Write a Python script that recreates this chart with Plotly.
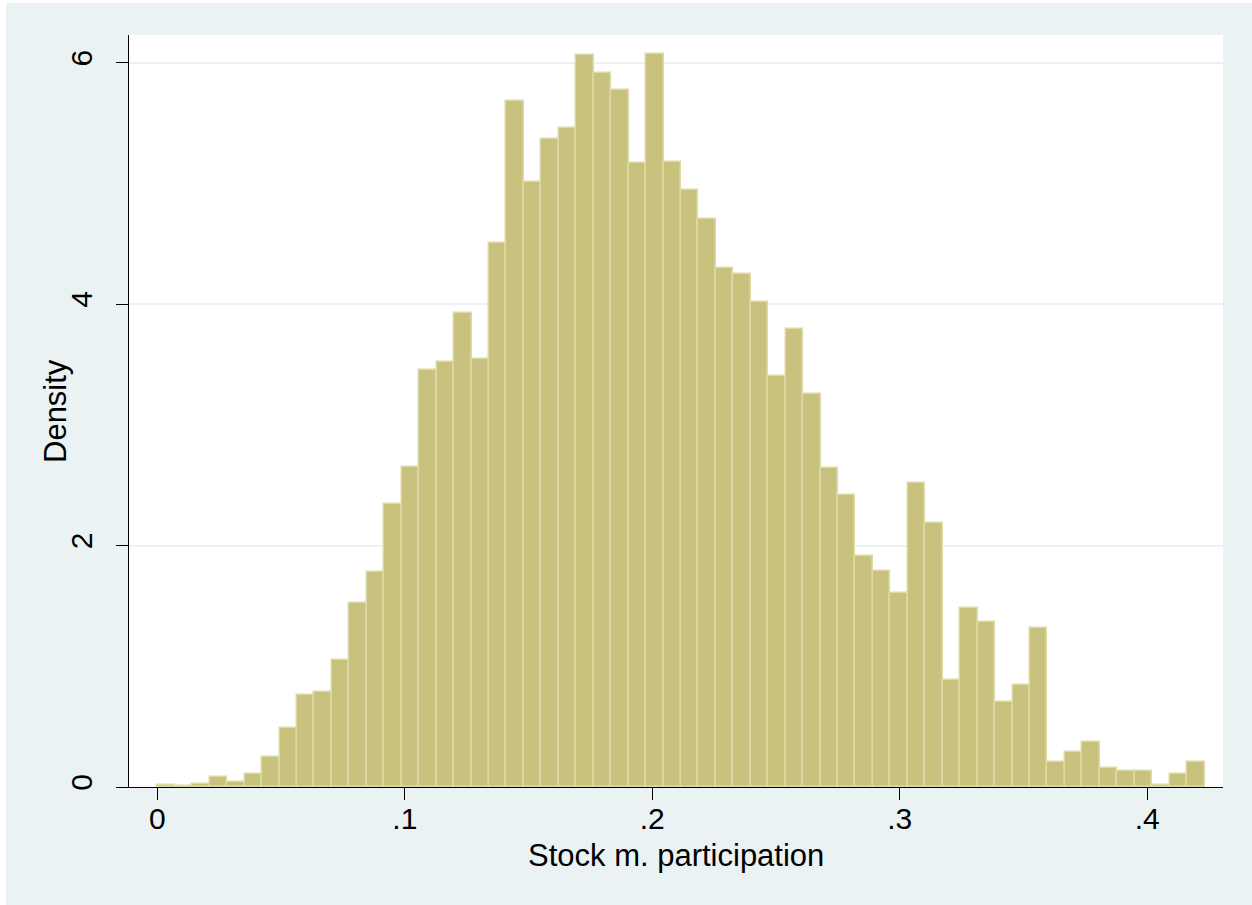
import plotly.graph_objects as go

# Histogram of stock market participation (density scale, 60 equal-width bins)
bin_start = 0.0
bin_width = 0.007053
density = [
    0.020, 0.010, 0.027, 0.083, 0.041, 0.108, 0.251, 0.485, 0.764, 0.788,
    1.048, 1.523, 1.782, 2.343, 2.654, 3.454, 3.523, 3.926, 3.543, 4.503,
    5.679, 5.011, 5.364, 5.455, 6.060, 5.916, 5.772, 5.171, 6.070, 5.176,
    4.947, 4.703, 4.296, 4.247, 4.017, 3.405, 3.791, 3.253, 2.638, 2.420,
    1.917, 1.785, 1.607, 2.517, 2.185, 0.888, 1.482, 1.368, 0.704, 0.847,
    1.316, 0.207, 0.290, 0.373, 0.157, 0.135, 0.135, 0.019, 0.110, 0.204,
]

x_tickvals = [0, 0.1, 0.2, 0.3, 0.4]
x_ticktext = ["0", ".1", ".2", ".3", ".4"]
y_tickvals = [0, 2, 4, 6]
y_ticktext = ["0", "2", "4", "6"]

x_title = "Stock m. participation"
y_title = "Density"

centers = [bin_start + bin_width * (i + 0.5) for i in range(len(density))]

BG = "#EAF2F3"
FILL = "#C9C27F"
EDGE = "#DEDAA6"
FONT = "Liberation Sans, Arial, Helvetica, sans-serif"

W, H = 1252, 905
ML, MR, MT, MB = 129, 29, 35, 118
PW, PH = W - ML - MR, H - MT - MB


def px_to_paper_x(px):
    return (px - ML) / PW


def px_to_paper_y(py):
    return (H - MB - py) / PH


fig = go.Figure(
    go.Bar(
        x=centers,
        y=density,
        width=bin_width,
        marker=dict(color=FILL, line=dict(color=EDGE, width=1.5)),
        hoverinfo="x+y",
    )
)

axis_common = dict(
    showline=True,
    linecolor="black",
    linewidth=1.2,
    ticks="outside",
    ticklen=12,
    tickwidth=1.2,
    tickcolor="black",
    tickfont=dict(family=FONT, size=30, color="black"),
    zeroline=False,
    mirror=False,
)

fig.update_xaxes(
    **axis_common,
    range=[-0.01148, 0.43065],
    tickvals=x_tickvals,
    ticktext=x_ticktext,
    ticklabelstandoff=-7,
    showgrid=False,
)
fig.update_yaxes(
    **axis_common,
    range=[0, 6.228],
    tickvals=y_tickvals,
    ticktext=y_ticktext,
    tickangle=-90,
    ticklabelstandoff=12,
    showgrid=True,
    gridcolor=BG,
    gridwidth=1.5,
)

# axis titles placed as annotations in the margins
annotations = [
    dict(text=x_title, xref="paper", yref="paper",
         x=0.5, y=px_to_paper_y(855), xanchor="center", yanchor="middle",
         showarrow=False, font=dict(family=FONT, size=31, color="black")),
    dict(text=y_title, xref="paper", yref="paper",
         x=px_to_paper_x(55), y=0.5, xanchor="center", yanchor="middle",
         textangle=-90, showarrow=False,
         font=dict(family=FONT, size=31, color="black")),
]

# thin white frame strips at the left and top of the page
shapes = [
    dict(type="rect", xref="paper", yref="paper",
         x0=px_to_paper_x(0), x1=px_to_paper_x(6), y0=px_to_paper_y(H), y1=px_to_paper_y(0),
         fillcolor="white", line=dict(width=0), layer="above"),
    dict(type="rect", xref="paper", yref="paper",
         x0=px_to_paper_x(0), x1=px_to_paper_x(W), y0=px_to_paper_y(3), y1=px_to_paper_y(0),
         fillcolor="white", line=dict(width=0), layer="above"),
]

fig.update_layout(
    width=W,
    height=H,
    margin=dict(l=ML, r=MR, t=MT, b=MB, pad=0),
    paper_bgcolor=BG,
    plot_bgcolor="white",
    showlegend=False,
    bargap=0,
    shapes=shapes,
    annotations=annotations,
    font=dict(family=FONT, color="black"),
)

fig.write_html("out.html")
